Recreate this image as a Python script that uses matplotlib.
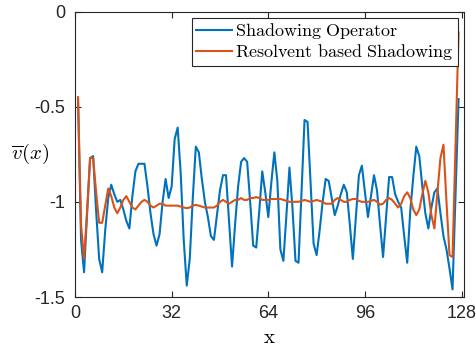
import numpy as np
import matplotlib
matplotlib.use("Agg")
import matplotlib.pyplot as plt

x = np.arange(1, 128)

shadowing = [
    -0.46, -1.20, -1.37, -1.06, -0.77, -0.76, -1.05, -1.30, -1.37, -1.15,
    -0.98, -0.91, -0.96, -1.00, -0.99, -1.04, -1.10, -1.14, -0.97, -0.84,
    -0.80, -0.80, -0.80, -0.92, -1.06, -1.17, -1.23, -1.17, -1.00, -0.88,
    -0.98, -0.92, -0.67, -0.61, -0.85, -1.20, -1.44, -1.30, -0.98, -0.71,
    -0.74, -0.88, -1.00, -1.08, -1.18, -1.20, -1.07, -0.94, -0.86, -0.86,
    -1.10, -1.34, -1.12, -0.92, -0.79, -0.77, -0.79, -1.00, -1.23, -1.24,
    -1.05, -0.84, -0.95, -1.08, -0.90, -0.74, -0.89, -1.25, -1.31, -1.07,
    -0.82, -1.03, -1.31, -1.32, -0.95, -0.57, -0.58, -0.90, -1.22, -1.28,
    -1.15, -1.00, -0.88, -0.89, -0.98, -1.07, -1.02, -0.96, -0.91, -0.95,
    -1.12, -1.30, -1.08, -0.86, -0.81, -0.95, -1.08, -0.97, -0.86, -0.94,
    -1.12, -1.29, -1.08, -0.87, -0.87, -0.96, -1.00, -1.03, -1.18, -1.32,
    -1.05, -0.87, -0.71, -0.76, -0.92, -1.06, -1.14, -1.03, -0.95, -0.93,
    -1.06, -1.18, -1.25, -1.35, -1.46, -0.96, -0.46,
]

resolvent = [
    -0.45, -1.12, -1.30, -1.05, -0.77, -0.77, -0.95, -1.11, -1.11, -1.02,
    -0.93, -0.97, -1.03, -1.06, -1.03, -0.99, -0.97, -1.00, -1.03, -1.04,
    -1.02, -1.00, -0.99, -1.00, -1.02, -1.03, -1.02, -1.01, -1.01, -1.02,
    -1.02, -1.02, -1.02, -1.02, -1.025, -1.03, -1.033, -1.03, -1.02, -1.016,
    -1.02, -1.025, -1.03, -1.03, -1.03, -1.03, -1.02, -1.00, -0.99, -1.00,
    -1.01, -1.00, -0.99, -0.99, -0.98, -0.99, -0.99, -0.98, -0.98, -0.975,
    -0.98, -0.99, -0.99, -0.99, -0.985, -0.985, -0.985, -0.985, -0.99, -0.995,
    -1.00, -1.00, -1.00, -1.00, -0.995, -0.99, -0.995, -1.00, -0.995, -0.99,
    -0.995, -1.00, -1.01, -1.01, -1.01, -0.99, -0.98, -0.99, -1.00, -1.00,
    -0.99, -0.985, -0.985, -0.995, -1.00, -1.00, -1.00, -0.995, -0.99, -1.00,
    -1.015, -1.01, -0.99, -0.98, -0.99, -1.01, -1.03, -1.01, -0.97, -0.95,
    -0.98, -1.04, -1.07, -1.04, -0.96, -0.89, -0.95, -1.07, -1.14, -0.95,
    -0.77, -0.70, -1.00, -1.28, -1.29, -0.70, -0.11,
]

xticks = [0, 32, 64, 96, 128]
yticks = [-1.5, -1, -0.5, 0]
yticklabels = ["-1.5", "-1", "-0.5", "0"]

plt.rcParams['mathtext.fontset'] = 'cm'
plt.rcParams['font.family'] = ['Liberation Sans', 'DejaVu Sans']

fig = plt.figure(figsize=(4.76, 3.58), dpi=100)
ax = fig.add_axes([75/476, 1 - 297/358, (464 - 75)/476, (297 - 11.5)/358])

ax.plot(x, shadowing, color='#0072BD', lw=1.5,
        label=r'$\mathrm{Shadowing\ Operator}$')
ax.plot(x, resolvent, color='#D95319', lw=1.5,
        label=r'$\mathrm{Resolvent\ based\ Shadowing}$')

ax.set_xlim(0, 128.8)
ax.set_ylim(-1.5, 0)
ax.set_xticks(xticks)
ax.set_yticks(yticks)
ax.set_yticklabels(yticklabels)
ax.tick_params(direction='in', length=4, width=0.8, top=True, right=True,
               labelsize=13, colors='#262626')
ax.tick_params(axis='x', pad=6)
ax.tick_params(axis='y', pad=7)
for s in ax.spines.values():
    s.set_color('#262626')
    s.set_linewidth(0.8)

ax.set_xlabel(r'$\mathrm{x}$', fontsize=15, labelpad=4)
ax.set_ylabel(r'$\overline{v}(x)$', fontsize=15, rotation=0)
ax.yaxis.set_label_coords(-0.115, 0.5)
ax.yaxis.label.set_verticalalignment('center')
ax.yaxis.label.set_horizontalalignment('center')

leg = ax.legend(loc='upper right', fontsize=13, frameon=True, fancybox=False,
                edgecolor='#262626', borderpad=0.2, labelspacing=0.05,
                handlelength=2.0, handletextpad=0.2, borderaxespad=0.35)
leg.get_frame().set_linewidth(0.8)
leg.get_frame().set_alpha(1.0)

fig.savefig('out.png', dpi=100)
